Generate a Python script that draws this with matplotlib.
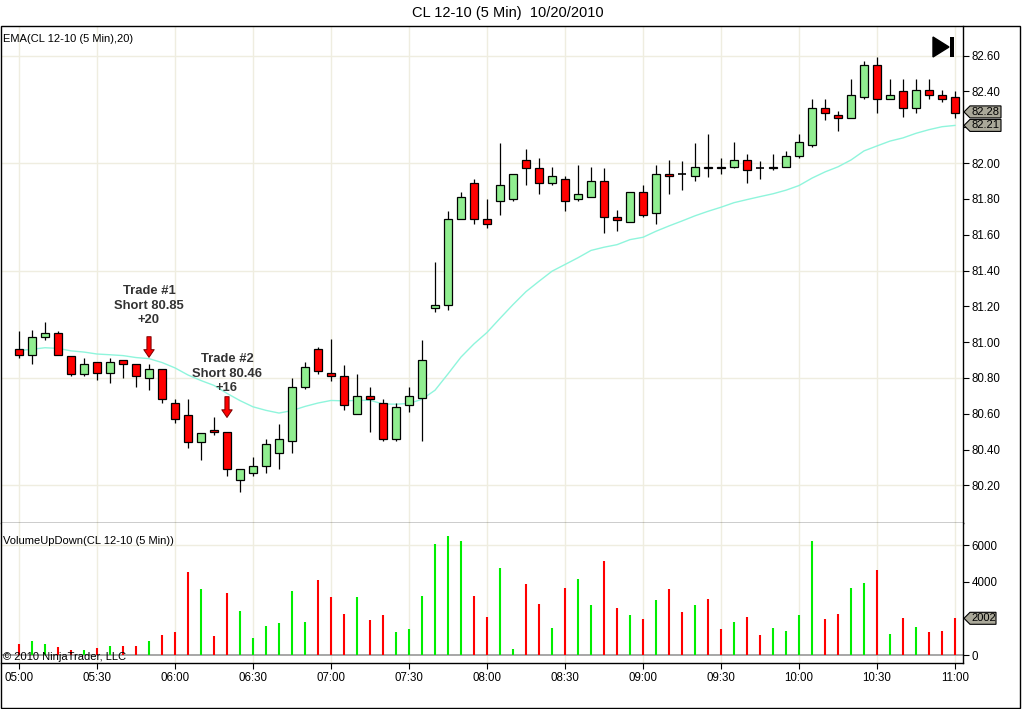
import numpy as np
import pandas as pd
import matplotlib
matplotlib.use("Agg")
import matplotlib.pyplot as plt
from matplotlib.patches import Rectangle, Polygon
from matplotlib.transforms import IdentityTransform

plt.rcParams['font.family'] = ['Liberation Sans', 'DejaVu Sans']

############## data
opens = [80.96, 80.93, 81.03, 81.05, 80.92, 80.82, 80.89, 80.83, 80.90, 80.88,
         80.80, 80.85, 80.66, 80.59, 80.44, 80.51, 80.50, 80.23, 80.27, 80.31,
         80.38, 80.45, 80.75, 80.96, 80.83, 80.81, 80.60, 80.70, 80.66, 80.46,
         80.65, 80.69, 81.19, 81.21, 81.69, 81.89, 81.69, 81.79, 81.80, 82.02,
         81.97, 81.89, 81.91, 81.80, 81.81, 81.90, 81.70, 81.67, 81.84, 81.72,
         81.94, 81.94, 81.93, 81.98, 81.98, 81.98, 82.02, 81.97, 81.97, 81.98,
         82.04, 82.10, 82.31, 82.27, 82.25, 82.37, 82.55, 82.36, 82.40, 82.31,
         82.41, 82.38, 82.37]
highs = [81.06, 81.07, 81.11, 81.06, 80.92, 80.91, 80.89, 80.91, 80.90, 80.88,
         80.88, 80.85, 80.68, 80.68, 80.49, 80.58, 80.50, 80.29, 80.36, 80.46,
         80.54, 80.80, 80.89, 80.97, 81.02, 80.87, 80.82, 80.75, 80.68, 80.66,
         80.75, 81.01, 81.45, 81.73, 81.84, 81.91, 81.80, 82.11, 81.94, 82.08,
         82.03, 81.98, 81.93, 81.99, 81.98, 81.97, 81.74, 81.84, 81.88, 81.99,
         82.02, 82.01, 82.11, 82.16, 82.03, 82.12, 82.05, 82.01, 82.05, 82.07,
         82.16, 82.36, 82.36, 82.29, 82.47, 82.57, 82.59, 82.47, 82.47, 82.47,
         82.47, 82.41, 82.40]
lows = [80.91, 80.88, 81.01, 80.93, 80.81, 80.81, 80.79, 80.77, 80.80, 80.75,
        80.73, 80.66, 80.55, 80.41, 80.34, 80.48, 80.25, 80.16, 80.25, 80.27,
        80.29, 80.38, 80.74, 80.82, 80.78, 80.62, 80.60, 80.50, 80.45, 80.45,
        80.61, 80.45, 81.17, 81.18, 81.69, 81.66, 81.64, 81.71, 81.79, 81.88,
        81.83, 81.88, 81.73, 81.79, 81.81, 81.61, 81.62, 81.67, 81.70, 81.66,
        81.83, 81.85, 81.90, 81.92, 81.94, 81.97, 81.89, 81.91, 81.96, 81.98,
        82.03, 82.09, 82.24, 82.18, 82.25, 82.36, 82.28, 82.36, 82.26, 82.28,
        82.36, 82.34, 82.25]
closes = [80.93, 81.03, 81.05, 80.93, 80.82, 80.88, 80.83, 80.89, 80.88, 80.81,
          80.85, 80.68, 80.57, 80.44, 80.49, 80.50, 80.29, 80.29, 80.31, 80.43,
          80.46, 80.75, 80.86, 80.84, 80.81, 80.65, 80.70, 80.68, 80.46, 80.64,
          80.70, 80.90, 81.21, 81.69, 81.81, 81.69, 81.66, 81.88, 81.94, 81.97,
          81.89, 81.93, 81.79, 81.83, 81.90, 81.70, 81.68, 81.84, 81.71, 81.94,
          81.93, 81.94, 81.98, 81.97, 81.97, 82.02, 81.96, 81.97, 81.98, 82.04,
          82.12, 82.31, 82.28, 82.25, 82.38, 82.55, 82.36, 82.38, 82.31, 82.41,
          82.38, 82.36, 82.28]
volumes = [605, 770, 605, 440, 275, 275, 385, 495, 495, 495,
           770, 1100, 1266, 4513, 3577, 1046, 3357, 2422, 936, 1596,
           1761, 3467, 1816, 4073, 3180, 2236, 3164, 1909, 2182, 1255,
           1418, 3218, 6055, 6491, 6218, 3218, 2073, 4745, 327, 3873,
           2782, 1473, 3655, 4145, 2727, 5127, 2564, 2182, 1964, 3000,
           3600, 2345, 2727, 3055, 1418, 1800, 2073, 1091, 1473, 1309,
           2182, 6218, 1964, 2236, 3655, 3927, 4636, 1145, 2018, 1527,
           1255, 1309, 2002]
ema_seed = 80.955   # EMA value just before 05:00
ema_period = 20

price_ticks = [80.20, 80.40, 80.60, 80.80, 81.00, 81.20, 81.40, 81.60, 81.80, 82.00, 82.20, 82.40, 82.60]
price_grid = [80.20, 80.80, 81.40, 82.00, 82.60]
vol_ticks = [0, 4000, 6000]

times = pd.date_range("2010-10-20 05:00", periods=len(closes), freq="5min")
tick_labels = [t.strftime("%H:%M") for t in times[::6]]

trades = [  # bar, label, arrow tip, arrow tail, text centre
    (10, "Trade #1\nShort 80.85\n+20", 80.915, 81.03, 81.204),
    (16, "Trade #2\nShort 80.46\n+16", 80.579, 80.695, 80.824),
]

############## EMA(20) from the closes
ema = []
e = ema_seed
for c in closes:
    e += (c - e) * 2.0 / (ema_period + 1)
    ema.append(e)

############## figure layout (pixel boxes)
W, H = 1024, 709
fig = plt.figure(figsize=(W / 100, H / 100), dpi=100)

def fbox(x0, y0, x1, y1):
    return [x0 / W, 1 - y1 / H, (x1 - x0) / W, (y1 - y0) / H]

ax = fig.add_axes(fbox(1, 26, 963, 523))
axv = fig.add_axes(fbox(1, 523, 963, 663), sharex=ax)

GRID = "#efede0"
UP, DOWN = "#90ee90", "#ff0000"
VUP = "#00ee00"
n = len(closes)
x = np.arange(n)

############## candles
for i in range(n):
    o, h, l, c = opens[i], highs[i], lows[i], closes[i]
    ax.vlines(i, l, h, color="black", lw=0.9, zorder=3)
    if o == c:
        ax.hlines(o, i - 0.3, i + 0.3, color="black", lw=1.2, zorder=4)
    else:
        ax.add_patch(Rectangle((i - 0.3, min(o, c)), 0.6, abs(c - o),
                               fc=UP if c > o else DOWN, ec="black", lw=0.9, zorder=4))

ax.plot(x, ema, color="#8ff5dc", lw=1.0, zorder=2)

for bar, label, tip, tail, txt in trades:
    ax.annotate("", xy=(bar, tip), xytext=(bar, tail),
                arrowprops=dict(arrowstyle="simple,head_length=0.55,head_width=0.75,tail_width=0.3",
                                fc="#ff0000", ec="#7a0000", lw=0.7, shrinkA=0, shrinkB=0),
                zorder=5)
    ax.text(bar, txt, label, ha="center", va="center", fontsize=9.4,
            fontweight="bold", color="#333333", linespacing=1.25, zorder=5)

ax.set_xlim((1 - 19) / 13, (963 - 19) / 13)
ax.set_ylim(82.60 - (523 - 55.7) / 179, 82.60 + (55.7 - 26) / 179)

############## volume
vcol = [VUP if closes[i] > opens[i] else DOWN for i in range(n)]
axv.vlines(x, 0, volumes, colors=vcol, lw=1.5, zorder=3)
axv.axhline(0, color="#a0a0a0", lw=1.3, zorder=2)
axv.set_ylim(-436, 7200)

############## grids, ticks, spines
for g in price_grid:
    ax.axhline(g, color=GRID, lw=1.0, zorder=0)
axv.axhline(6000, color=GRID, lw=1.0, zorder=0)
for t in range(0, n, 6):
    ax.axvline(t, color=GRID, lw=1.0, zorder=0)
    axv.axvline(t, color=GRID, lw=1.0, zorder=0)

ax.yaxis.tick_right()
ax.set_yticks(price_ticks)
# 82.20 sits under the last-value tags, so it has no visible label
ax.set_yticklabels(["" if abs(v - 82.20) < 1e-9 else "%.2f" % v for v in price_ticks])
axv.yaxis.tick_right()
axv.set_yticks(vol_ticks)
axv.set_yticklabels([str(v) for v in vol_ticks])
for a in (ax, axv):
    a.tick_params(axis="y", direction="out", length=4.5, width=0.8, pad=1.5, labelsize=8.3)
    for s in ("left", "top"):
        a.spines[s].set_visible(False)
    for s in ("right", "bottom"):
        a.spines[s].set_linewidth(1.0)
ax.tick_params(axis="x", bottom=False, labelbottom=False)
axv.set_xticks(range(0, n, 6))
axv.set_xticklabels(tick_labels)
axv.tick_params(axis="x", direction="out", length=4.5, width=0.8, pad=2, labelsize=8.3)

############## texts
fig.text(508 / W, 1 - 13 / H, "CL 12-10 (5 Min)  10/20/2010", ha="center", va="center", fontsize=10.5)
fig.text(3 / W, 1 - 39 / H, "EMA(CL 12-10 (5 Min),20)", ha="left", va="center", fontsize=8)
fig.text(3 / W, 1 - 541 / H, "VolumeUpDown(CL 12-10 (5 Min))", ha="left", va="center", fontsize=8)
fig.text(3 / W, 1 - 657 / H, "\u00a9 2010 NinjaTrader, LLC", ha="left", va="center", fontsize=8)

# outer frame
fig.add_artist(Rectangle((0.5, 1), 1019.5, 682, fill=False, ec="black", lw=1.0,
                         transform=IdentityTransform()))

# last value tags on the right axis (display pixels)
def tag(y, text, width):
    x0 = 964
    pts = [(x0, y), (x0 + 6, y + 6), (x0 + width, y + 6), (x0 + width, y - 6), (x0 + 6, y - 6)]
    fig.add_artist(Polygon(pts, closed=True, fc="#aaa899", ec="black", lw=0.8,
                           transform=IdentityTransform()))
    fig.text(x0 + 7.5, y, text, ha="left", va="center", fontsize=8,
             transform=IdentityTransform())

y_ema = ax.transData.transform((0, ema[-1]))[1]
y_close = ax.transData.transform((0, closes[-1]))[1]
if y_close - y_ema < 13.5:       # stack the tags like NinjaTrader does
    y_close = y_ema + 13.5
tag(y_close, "%.2f" % closes[-1], 37)
tag(y_ema, "%.2f" % ema[-1], 37)
tag(axv.transData.transform((0, volumes[-1]))[1], "%d" % volumes[-1], 32)

# "go to last bar" icon
fig.add_artist(Polygon([(933, H - 37), (933, H - 57), (949, H - 47)], closed=True,
                       fc="black", ec="black", transform=IdentityTransform()))
fig.add_artist(Rectangle((950, H - 57), 4, 20, fc="black", ec="none", transform=IdentityTransform()))

fig.savefig("out.png", dpi=100)
